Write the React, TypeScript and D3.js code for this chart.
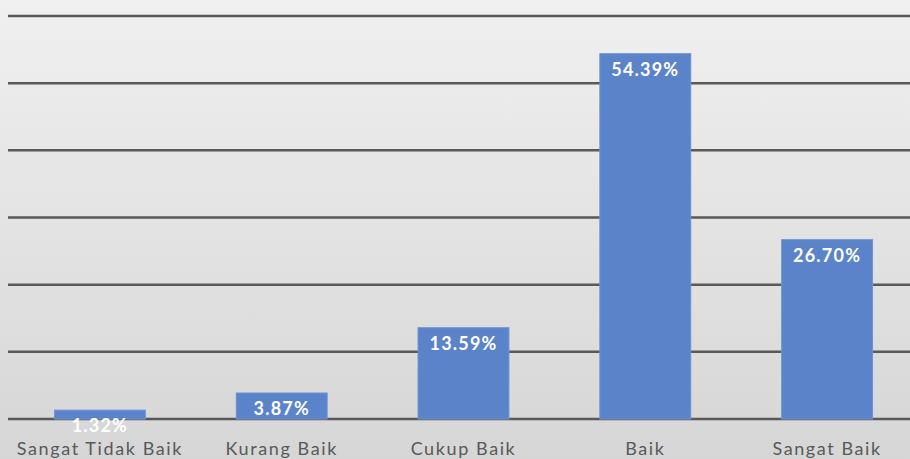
import React, { useEffect, useRef } from 'react';
import * as d3 from 'd3';

const categories = ['Sangat Tidak Baik', 'Kurang Baik', 'Cukup Baik', 'Baik', 'Sangat Baik'];
const percentages = [1.32, 3.87, 13.59, 54.39, 26.7];
const gridTicks = [0, 10, 20, 30, 40, 50, 60];

const W = 910;
const H = 459;

export default function App() {
  const svgRef = useRef<SVGSVGElement>(null);

  useEffect(() => {
    if (!svgRef.current) return;
    const svg = d3.select(svgRef.current);
    svg.selectAll('*').remove();

    const defs = svg.append('defs');
    const grad = defs.append('linearGradient')
      .attr('id', 'bg')
      .attr('x1', 0).attr('y1', 0).attr('x2', 0).attr('y2', 1);
    grad.append('stop').attr('offset', '0%').attr('stop-color', '#f0f0f0');
    grad.append('stop').attr('offset', '100%').attr('stop-color', '#d6d6d6');

    svg.append('rect')
      .attr('width', W).attr('height', H)
      .attr('fill', 'url(#bg)');

    const x = d3.scaleBand<string>().domain(categories).range([9, 918])
      .paddingInner(0.5).paddingOuter(0.25);
    const y = d3.scaleLinear().domain([0, 60]).range([419, 16]);

    // gridlines
    svg.append('g')
      .selectAll('line')
      .data(gridTicks)
      .join('line')
      .attr('x1', 8)
      .attr('x2', W)
      .attr('y1', d => y(d))
      .attr('y2', d => y(d))
      .attr('stroke', '#595959')
      .attr('stroke-width', 2.5);

    // bars
    svg.append('g')
      .selectAll('rect')
      .data(percentages)
      .join('rect')
      .attr('x', (d, i) => x(categories[i])!)
      .attr('width', x.bandwidth())
      .attr('y', d => y(d))
      .attr('height', d => y(0) - y(d))
      .attr('fill', '#5a83c9')
      .attr('stroke', '#6f93d2')
      .attr('stroke-width', 1);

    // value labels
    svg.append('g')
      .selectAll('text')
      .data(percentages)
      .join('text')
      .attr('x', (d, i) => x(categories[i])! + x.bandwidth() / 2)
      .attr('y', d => y(d) + 22)
      .attr('text-anchor', 'middle')
      .attr('fill', '#ffffff')
      .attr('font-family', 'Lato, sans-serif')
      .attr('font-weight', 'bold')
      .attr('font-size', '18px')
      .attr('letter-spacing', '1.2px')
      .text(d => d.toFixed(2) + '%');

    // category labels
    svg.append('g')
      .selectAll('text')
      .data(categories)
      .join('text')
      .attr('x', d => x(d)! + x.bandwidth() / 2)
      .attr('y', 455)
      .attr('text-anchor', 'middle')
      .attr('fill', '#595959')
      .attr('font-family', 'Lato, sans-serif')
      .attr('font-size', '18px')
      .attr('letter-spacing', '1.6px')
      .text(d => d);
  }, []);

  return (
    <div style={{ position: 'fixed', left: 0, top: 0, width: W, height: H }}>
      <svg ref={svgRef} width={W} height={H} style={{ display: 'block' }} />
    </div>
  );
}
